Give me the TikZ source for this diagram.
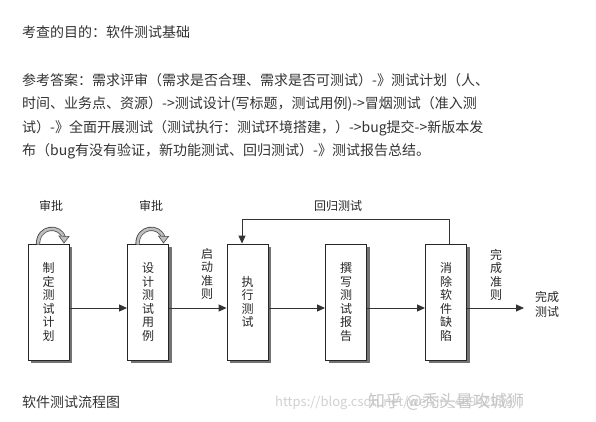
\documentclass[tikz,border=0pt]{standalone}
\usepackage{fontspec}
\setmainfont{Noto Sans CJK SC}
\usetikzlibrary{arrows.meta}
\begin{document}
\begin{tikzpicture}[x=1pt,y=-1pt,
  txt/.style={anchor=base west, inner sep=0pt, text=black!80, font=\fontsize{14}{23.5}\selectfont},
  box/.style={draw=black!85, line width=0.9pt, fill=white, minimum width=41pt, minimum height=116pt, inner sep=0pt},
  vtxt/.style={align=center, inner sep=0pt, text=black!85, font=\fontsize{12}{13.6}\selectfont},
  lbl/.style={inner sep=0pt, text=black!85, font=\fontsize{12}{14}\selectfont},
  conn/.style={draw=black!80, line width=0.9pt},
  arr/.style={conn, -{Triangle[length=8pt,width=7pt]}},
  shadowbox/.style={fill=black!55, draw=none, minimum width=41pt, minimum height=116pt, inner sep=0pt}
]
\useasboundingbox (0,0) rectangle (596,421);
\fill[white] (0,0) rectangle (596,421);

% header text
\node[txt] (t1) at (22,37) {考查的目的：软件测试基础};
\node[txt] (t2) at (22,85) {参考答案：需求评审（需求是否合理、需求是否可测试）-》测试计划（人、};
\node[txt] (t3) at (22,108.5) {时间、业务点、资源）->测试设计(写标题，测试用例)->冒烟测试（准入测};
\node[txt] (t4) at (22,132) {试）-》全面开展测试（测试执行：测试环境搭建，）->bug提交->新版本发};
\node[txt] (t5) at (22,155.5) {布（bug有没有验证，新功能测试、回归测试）-》测试报告总结。};

% shadows
\foreach \cx in {48.5,148,247.5,346,446}{
  \node[shadowbox] at (\cx+3,302+3) {};
}
% boxes
\node[box] (b1) at (48.5,302) {};
\node[box] (b2) at (148,302) {};
\node[box] (b3) at (247.5,302) {};
\node[box] (b4) at (346,302) {};
\node[box] (b5) at (446,302) {};

\node[vtxt] (v1) at (b1.center) {制\\定\\测\\试\\计\\划};
\node[vtxt] (v2) at (b2.center) {设\\计\\测\\试\\用\\例};
\node[vtxt] (v3) at (b3.center) {执\\行\\测\\试};
\node[vtxt] (v4) at (b4.center) {撰\\写\\测\\试\\报\\告};
\node[vtxt] (v5) at (b5.center) {消\\除\\软\\件\\缺\\陷};

% horizontal arrows
\draw[arr] (b1.east |- 0,308) -- (b2.west |- 0,308);
\draw[arr] (b2.east |- 0,308) -- (b3.west |- 0,308);
\draw[arr] (b3.east |- 0,308) -- (b4.west |- 0,308);
\draw[arr] (b4.east |- 0,308) -- (b5.west |- 0,308);
\coordinate (endp) at (524,308);
\draw[arr] (b5.east |- 0,308) -- (endp);

\node[lbl, align=center, font=\fontsize{12}{15}\selectfont] (done) at (547,304) {完成\\测试};

% feedback loop
\coordinate (fbtop5) at (449,219);
\coordinate (fbtop3) at (242,219);
\draw[arr] (b5.north -| fbtop5) -- (fbtop5) -- (fbtop3) -- (b3.north -| fbtop3);
\node[lbl] (reg) at (338,206) {回归测试};

% criteria labels
\node[vtxt, font=\fontsize{12}{13.5}\selectfont] (start) at (207,274) {启\\动\\准\\则};
\node[vtxt, font=\fontsize{12}{13.5}\selectfont] (finish) at (496,275) {完\\成\\准\\则};

% approval labels
\node[lbl] (ap1) at (51,206) {审批};
\node[lbl] (ap2) at (151,206) {审批};

% curved approval arrows
\foreach \dx/\bn in {0/b1,99.5/b2}{
  \begin{scope}[xshift=\dx pt]
    \draw[line width=4.2pt, black!70] (38,244) .. controls (38,226) and (60,224) .. (64,238);
    \draw[line width=2.6pt, black!25] (38,244.5) .. controls (38,226) and (60,224) .. (64,238);
    \fill[black!25, draw=black!70, line width=0.6pt] (59,236) -- (69,236.5) -- (64,243) -- cycle;
  \end{scope}
}

% caption
\node[txt] (cap) at (22,407) {软件测试流程图};

% watermark
\node[anchor=base west, inner sep=0pt, text=black!18, font=\fontsize{13}{13}\selectfont] (wm1) at (275,406) {https://blog.csdn.net/weixin\_43942936};
\node[anchor=base west, inner sep=0pt, text=black!22, font=\fontsize{17}{17}\selectfont] (wm2) at (368,407) {知乎 @秃头暑攻城狮};
\end{tikzpicture}
\end{document}
